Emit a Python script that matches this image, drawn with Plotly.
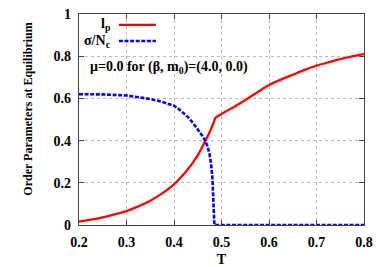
import plotly.graph_objects as go

T_lp = [0.2, 0.225, 0.25, 0.275, 0.3, 0.325, 0.35, 0.375, 0.4, 0.425, 0.45, 0.465, 0.475,
        0.48, 0.484, 0.487, 0.5, 0.525, 0.55, 0.575, 0.6, 0.625, 0.65, 0.675, 0.7, 0.725,
        0.75, 0.775, 0.8]
lp = [0.016, 0.025, 0.036, 0.05, 0.066, 0.088, 0.115, 0.15, 0.193, 0.252, 0.33, 0.395, 0.44,
      0.466, 0.488, 0.508, 0.526, 0.558, 0.592, 0.628, 0.663, 0.689, 0.712, 0.735, 0.755,
      0.771, 0.786, 0.799, 0.81]

T_sig = [0.2, 0.25, 0.3, 0.325, 0.35, 0.375, 0.4, 0.41, 0.42, 0.43, 0.44, 0.45, 0.46, 0.465,
         0.47, 0.475, 0.478, 0.481, 0.483, 0.4845, 0.485, 0.49, 0.5, 0.6, 0.7, 0.8]
sig = [0.62, 0.619, 0.614, 0.607, 0.597, 0.584, 0.565, 0.55, 0.53, 0.51, 0.484, 0.455, 0.422,
       0.403, 0.375, 0.335, 0.29, 0.22, 0.14, 0.05, 0.0, 0.0, 0.0, 0.0, 0.0, 0.0]

x_ticks = [0.2, 0.3, 0.4, 0.5, 0.6, 0.7, 0.8]
y_ticks = [0, 0.2, 0.4, 0.6, 0.8, 1]

FONT = "Liberation Serif"
RED = "#ff0000"
BLUE = "#0000ff"

fig = go.Figure()
fig.add_trace(go.Scatter(x=T_lp, y=lp, mode="lines",
                         line=dict(color=RED, width=2.3, shape="spline", smoothing=0.5),
                         showlegend=False))
fig.add_trace(go.Scatter(x=T_sig, y=sig, mode="lines",
                         line=dict(color=BLUE, width=2.6, dash="4px,1.6px"), showlegend=False))

axis_common = dict(
    showline=True, linecolor="#444444", linewidth=1.2, mirror="ticks",
    ticks="inside", ticklen=5, tickcolor="#444444",
    showgrid=True, gridcolor="#bbbbbb", griddash="dot", gridwidth=1,
    zeroline=False, automargin=False, ticklabeloverflow="allow",
    tickfont=dict(family=FONT, size=14, color="black", weight="bold"),
)

fig.update_xaxes(range=[0.2, 0.8], tickvals=x_ticks, ticklabelstandoff=4, **axis_common,
                 title=dict(text="T", font=dict(family=FONT, size=14, color="black", weight="bold"),
                            standoff=8))
fig.update_yaxes(range=[0, 1], tickvals=y_ticks, ticklabelstandoff=4, **axis_common)

fig.add_annotation(xref="paper", yref="paper", x=-0.18, y=0.55, xanchor="center", yanchor="middle",
                   text="Order Parameters at Equilibrium", textangle=-90, showarrow=False,
                   font=dict(family=FONT, size=12, color="black", weight="bold"))

# legend (text left of line sample)
leg_font = dict(family=FONT, size=14, color="black", weight="bold")
fig.add_annotation(xref="paper", yref="paper", x=0.118, y=0.948, xanchor="right", yanchor="middle",
                   text="l<sub>p</sub>", showarrow=False, font=leg_font)
fig.add_annotation(xref="paper", yref="paper", x=0.118, y=0.872, xanchor="right", yanchor="middle",
                   text="σ/N<sub>c</sub>", showarrow=False, font=leg_font)
fig.add_shape(type="line", xref="paper", yref="paper", x0=0.14, x1=0.27, y0=0.948, y1=0.948,
              line=dict(color=RED, width=2.3))
fig.add_shape(type="line", xref="paper", yref="paper", x0=0.14, x1=0.27, y0=0.872, y1=0.872,
              line=dict(color=BLUE, width=2.6, dash="4px,1.6px"))

fig.add_annotation(xref="paper", yref="paper", x=0.03, y=0.745, xanchor="left", yanchor="middle",
                   text="μ=0.0 for (β, m<sub>0</sub>)=(4.0, 0.0)", showarrow=False, font=leg_font)

# page body has an 8px margin, so the figure is sized/offset to land on the reference pixels
fig.update_layout(
    width=374, height=259,
    margin=dict(l=71, r=18, t=6, b=42),
    paper_bgcolor="white", plot_bgcolor="white",
)

fig.write_html("out.html")
